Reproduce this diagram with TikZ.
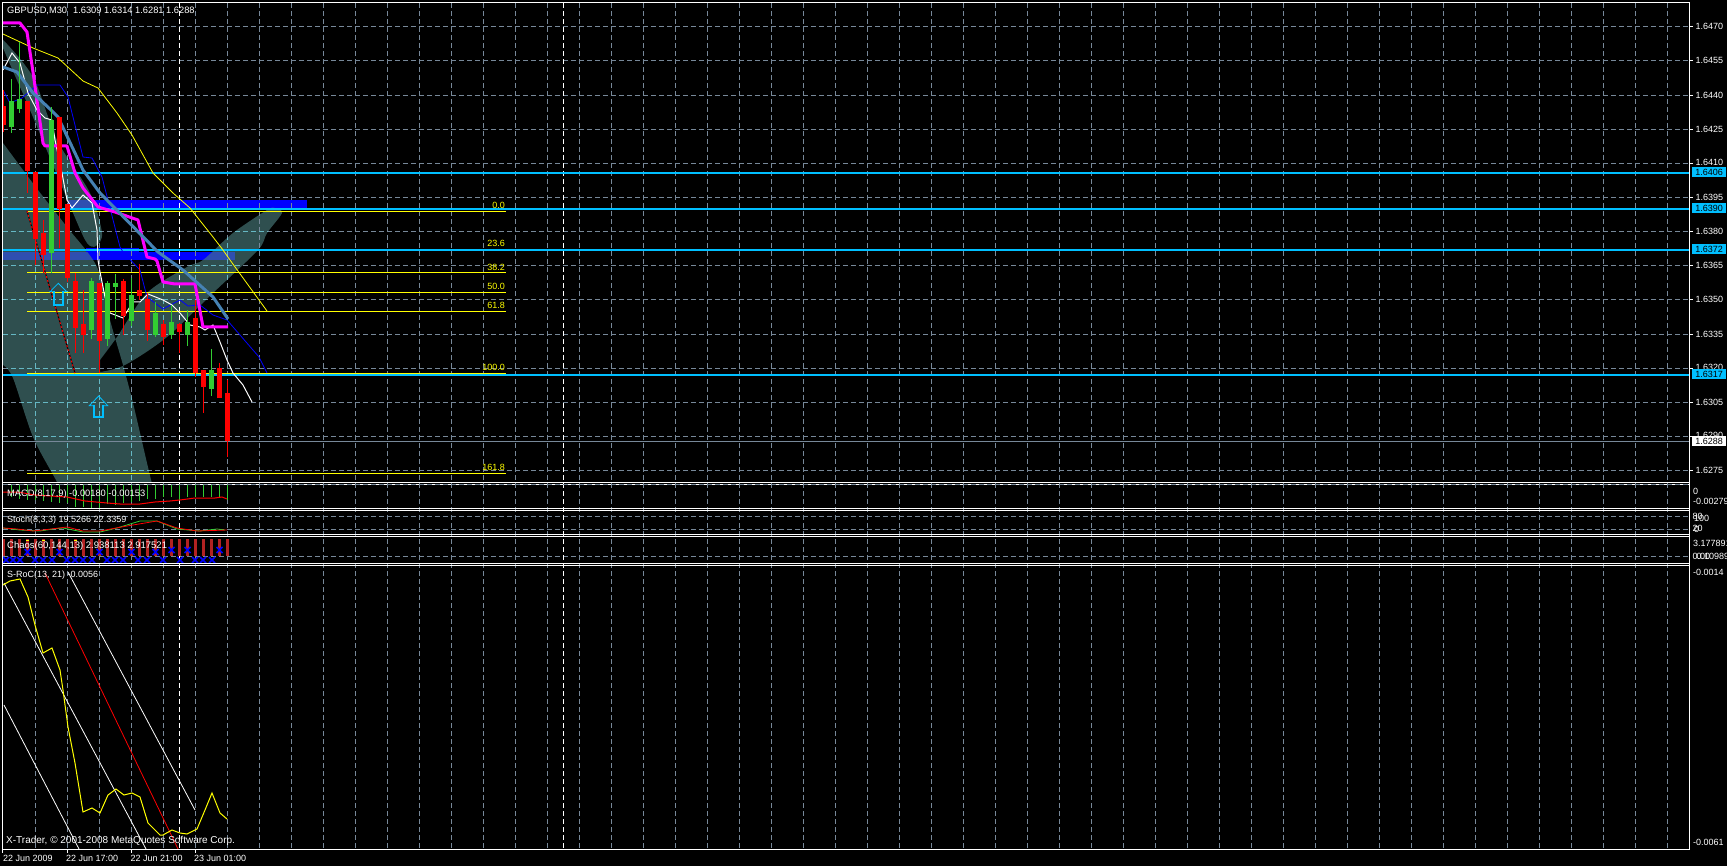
\documentclass[tikz,border=0pt]{standalone}
\usepackage{fontspec}
\setmainfont{Liberation Sans}

\definecolor{gridgray}{HTML}{778899}
\definecolor{gridlight}{HTML}{66B8C4}
\definecolor{ellipsefill}{HTML}{2F4F4F}
\definecolor{ellipseblue}{HTML}{2F4FB0}
\definecolor{levelblue}{HTML}{00BFFF}
\definecolor{upgreen}{HTML}{32CD32}
\definecolor{chaosred}{HTML}{B22222}
\definecolor{steel}{HTML}{4682B4}
\definecolor{chartyellow}{HTML}{FFFF00}
\definecolor{chartmagenta}{HTML}{FF00FF}

\tikzset{
  chartlabel/.style={anchor=west, inner sep=0pt, text=white, font=\fontsize{9}{9}\selectfont},
  titlelabel/.style={anchor=west, inner sep=0pt, text=white, font=\fontsize{9.3}{9}\selectfont},
  fiblabel/.style={anchor=east, inner sep=0pt, text=chartyellow, font=\fontsize{9}{9}\selectfont},
  pricetag/.style={minimum width=34pt, minimum height=10pt, inner sep=0pt, text=black, font=\fontsize{9}{9}\selectfont},
  griddash/.style={line width=1pt, dash pattern=on 5pt off 3pt},
  panelframe/.style={line width=1pt, white},
}

\begin{document}
\begin{tikzpicture}[x=1pt,y=-1pt]

\def\width{1727}
\def\height{866}
\def\axisx{1689.5}
\def\gridys{26.5,60.5,95.5,129.5,163.5,197.5,231.5,265.5,299.5,334.5,368.5,402.5,436.5,470.5}

% ELLIPSES
\def\shadepath{
  plot[smooth cycle] coordinates {(0,37) (33,77) (57,140) (90,193) (102,233) (96,246) (87,243) (73,213) (30,110) (6,55)}
  (-10,130) -- plot[smooth] coordinates {(3,143) (38,190) (67,227) (97,267) (110,320) (123,365) (133,403) (147,463) (156,500)}
  -- plot[smooth] coordinates {(65,500) (57,482) (33,437) (13,378) (3,365)} -- (-10,345) -- cycle
  (100,372) -- plot[smooth] coordinates {(100,372) (125,365) (167,337) (213,293) (258,250) (267,233) (282,213) (275,208) (267,210) (233,233) (203,260) (187,267) (147,293) (117,337) (100,360)} -- cycle
}

\path [use as bounding box, fill=black] (0,0) rectangle (\width,\height);

\begin{scope}
\clip (3,3) rectangle (\axisx,482);
\fill [ellipsefill, even odd rule] \shadepath;
\fill [blue] (68,200) rectangle (307,208.5);
\fill [blue] (3,252) rectangle (235,260);
\fill [blue] (86,248) rectangle (139,252);
\end{scope}

% GRID
\foreach \gx in {35.5,67.5,...,1667.5}
  \draw [griddash, gridgray] (\gx,3) -- (\gx,849);
\foreach \gy in \gridys
  \draw [griddash, gridgray] (3,\gy) -- (\axisx,\gy);
\foreach \gy in {516.5,529.5,556.5}
  \draw [griddash, gridgray] (3,\gy) -- (\axisx,\gy);

% GRID AND BLUE INSIDE ELLIPSES
\begin{scope}[even odd rule]
\clip (3,3) rectangle (\axisx,482);
\clip \shadepath;
\fill [ellipseblue] (68,200) rectangle (307,208.5);
\fill [ellipseblue] (3,252) rectangle (235,260);
\foreach \gx in {35.5,67.5,...,227.5}
  \draw [griddash, gridlight] (\gx,3) -- (\gx,482);
\foreach \gy in \gridys
  \draw [griddash, gridlight] (3,\gy) -- (300,\gy);
\end{scope}

% DAY SEPARATORS
\foreach \gx in {179.5,563.5}
  \draw [griddash, white] (\gx,3) -- (\gx,849);

% LEVELS
\foreach \ly in {173,209,250,375}
  \draw [line width=2pt, levelblue] (3,\ly) -- (\axisx,\ly);
\draw [line width=1pt, gridgray] (3,441.5) -- (\axisx,441.5);

% FIBO
\foreach \ly/\lt/\tyy in {211.5/0.0/205,272.5/38.2/267,292.5/50.0/286.5,311.5/61.8/305.5,373.5/100.0/367.5,473.5/161.8/467.5}{
  \draw [line width=1pt, chartyellow] (27,\ly) -- (506,\ly);
  \node [fiblabel] (fib\lt) at (505,\tyy) {\lt};
}
\node [fiblabel] (fib23) at (505,243) {23.6};

% TREND
\draw [line width=1pt, black] (27,211) -- (75,373);
\draw [line width=1pt, red, dash pattern=on 2pt off 2pt] (27,211) -- (75,373);

% MOVING AVERAGES
\begin{scope}
\clip (3,3) rectangle (\axisx,482);
\draw [line width=0.8pt, chartyellow] (3,34) -- (33,48) -- (58,58) -- (83,81) -- (98,88) -- (117,113) -- (132,135) -- (153,173) -- (173,193) -- (190,208) -- (213,237) -- (223,250) -- (230,260) -- (267,311);
\draw [line width=0.8pt, blue] (3,90) -- (10,103) -- (22,98) -- (37,85) -- (60,85) -- (68,97) -- (83,157) -- (92,158) -- (102,177) -- (110,208) -- (120,247) -- (123,252) -- (140,270) -- (147,297) -- (163,309) -- (180,300) -- (188,306) -- (200,305) -- (213,315) -- (227,320) -- (240,335) -- (259,357) -- (267,373);
\draw [line width=1pt, white] (3,70) -- (12,53) -- (20,63) -- (28,93) -- (37,110) -- (45,118) -- (52,120) -- (55,140) -- (62,173) -- (67,200) -- (72,208) -- (83,195) -- (92,203) -- (97,230) -- (98,260) -- (100,272) -- (105,297) -- (110,313) -- (123,318) -- (133,302) -- (140,302) -- (148,294) -- (163,300) -- (172,305) -- (180,313) -- (190,325) -- (200,327) -- (205,330) -- (213,325) -- (220,342) -- (227,360) -- (233,373) -- (243,385) -- (252,402);
\draw [line width=3pt, chartmagenta, line join=round] (3,23) -- (20,23) -- (27,32) -- (33,72) -- (43,143) -- (45,146) -- (67,146) -- (75,173) -- (83,188) -- (98,207) -- (115,212) -- (138,220) -- (147,257) -- (155,259) -- (157,261) -- (163,282) -- (175,284) -- (195,284) -- (203,327) -- (228,327);
\draw [line width=3pt, steel, line join=round] (3,67) -- (17,72) -- (33,93) -- (52,111) -- (58,117) -- (83,170) -- (100,193) -- (158,252) -- (183,270) -- (213,297) -- (228,319);
\end{scope}

% ARROWS
\draw [line width=0.8pt, levelblue] (54.3,291.7) -- (50,291.7) -- (58.3,283.3) -- (66.7,291.7) -- (62.7,291.7);
\draw [line width=2pt, levelblue] (54.3,291) -- (54.3,305) -- (62.7,305) -- (62.7,291);
\draw [line width=0.8pt, levelblue] (94.3,405.7) -- (89.3,405.7) -- (98.7,396) -- (107.7,405.7) -- (102.7,405.7);
\draw [line width=2pt, levelblue] (94.3,405) -- (94.3,417.5) -- (102.7,417.5) -- (102.7,405);

% CANDLES
\begin{scope}
\clip (3,3) rectangle (\axisx,482);
\foreach \cx/\col/\bt/\bb/\wt/\wb in {
  3.5/red/106/125/90/132, 11.5/upgreen/101/127/79/133, 19.5/upgreen/99/109/42/113,
  27.5/red/101/171/101/193, 35.5/red/172/239/172/265, 43.5/red/233/255/220/273,
  51.5/upgreen/120/253/107/273, 59.5/red/117/209/117/248, 67.5/red/204/278/204/282,
  75.5/red/281/328/273/353, 83.5/red/324/335/290/353, 91.5/upgreen/281/330/278/339,
  99.5/red/283/341/283/373, 107.5/upgreen/283/339/281/346, 115.5/upgreen/283/287/274/319,
  123.5/red/281/316/279/335, 131.5/upgreen/295/321/278/326, 139.5/red/290/296/264/300,
  147.5/red/299/330/293/341, 155.5/upgreen/313/335/302/337, 163.5/red/324/337/320/345,
  171.5/upgreen/322/335/305/339, 179.5/red/324/332/323/353, 187.5/upgreen/322/335/310/346,
  195.5/red/318/373/300/377, 203.5/red/370/387/370/413, 211.5/upgreen/370/389/349/396,
  219.5/red/368/398/363/398, 227.5/red/393/441/380/457}{
  \draw [line width=1pt, \col] (\cx,\wt) -- (\cx,\wb);
  \fill [\col] (\cx-2.5,\bt) rectangle (\cx+2.5,\bb);
}
\end{scope}

% MACD
\foreach \mx/\my in {11.5/497,19.5/499,27.5/500,35.5/500,43.5/501,51.5/502,59.5/503,67.5/503,75.5/507,83.5/507,91.5/508,99.5/508,107.5/504,115.5/505,123.5/503,131.5/502,139.5/501,147.5/499,155.5/499,163.5/497,171.5/497,179.5/500,187.5/497,195.5/497,203.5/497,211.5/497,219.5/497,227.5/500}
  \draw [line width=1pt, upgreen] (\mx,485) -- (\mx,\my);
\draw [line width=1pt, red] (3,492) -- (18,492) -- (35,495) -- (67,497) -- (85,501) -- (107,503) -- (120,504) -- (140,504) -- (155,502) -- (170,501) -- (180,500) -- (195,498) -- (215,498) -- (222,497) -- (227,499);

% STOCH
\draw [line width=0.8pt, upgreen] (3,528) -- (20,530) -- (40,531) -- (53,529) -- (63,528) -- (83,532) -- (100,532) -- (117,528) -- (140,521) -- (157,521) -- (177,529) -- (200,531) -- (217,529) -- (225,530);
\draw [line width=0.8pt, red] (3,528) -- (17,529) -- (33,531) -- (43,530) -- (67,527) -- (83,531) -- (100,531) -- (127,526) -- (157,521) -- (177,528) -- (197,531) -- (227,530);

% CHAOS
\foreach \hx in {3.5,11.5,...,227.5}
  \draw [line width=3pt, chaosred] (\hx,539) -- (\hx,556);
\foreach \hx in {27.5,43.5,75.5}
  \draw [line width=1pt, chartyellow] (\hx-1.5,540.5) -- (\hx+1.5,540.5);
\foreach \hx/\hy in {6/560,13/560,20/560,35/560,43/560,52/560,67/560,75/560,83/560,92/560,107/560,115/560,123/560,138/560,147/560,163/560,180/560,195/560,203/560,212/560,27.5/552,59.5/552,99.5/552,131.5/552,155.5/552,171.5/550,187.5/550,219.5/550}{
  \draw [line width=1.6pt, blue] (\hx-3,\hy-3) -- (\hx+3,\hy+3);
  \draw [line width=1.6pt, blue] (\hx-3,\hy+3) -- (\hx+3,\hy-3);
}

% S-ROC
\begin{scope}
\clip (3,565) rectangle (\axisx,849);
\draw [line width=0.8pt, white] (4,583) -- (146,849);
\draw [line width=0.8pt, white] (4,705) -- (79,849);
\draw [line width=0.8pt, white] (68,572) -- (195,810);
\draw [line width=0.8pt, red] (45,573) -- (178,849);
\draw [line width=1pt, chartyellow] (3,585) -- (10,581) -- (20,579) -- (28,597) -- (35,625) -- (43,653) -- (52,648) -- (60,670) -- (63,690) -- (68,727) -- (75,763) -- (83,812) -- (92,808) -- (100,813) -- (108,795) -- (116,789) -- (124,795) -- (132,793) -- (140,797) -- (148,823) -- (160,835) -- (163,835) -- (172,830) -- (180,833) -- (187,834) -- (197,829) -- (205,810) -- (212,793) -- (220,813) -- (227,819);
\end{scope}

% FRAMES
\draw [panelframe] (2.5,2.5) -- (\axisx,2.5) -- (\axisx,849.5) -- (2.5,849.5) -- cycle;
\foreach \fy in {482.5,484.5,508.5,510.5,534.5,536.5,563.5,565.5}
  \draw [panelframe] (2.5,\fy) -- (\axisx,\fy);
\draw [griddash, gridgray] (3,484.5) -- (\axisx,484.5);

% TICKS
\foreach \gy in \gridys
  \draw [line width=1pt, white] (\axisx,\gy) -- +(3,0);
\foreach \tx in {2.5,67.5,131.5,195.5}
  \draw [line width=1pt, white] (\tx,849.5) -- +(0,3);

% PRICE AXIS
\foreach \ay/\at in {26/1.6470,60/1.6455,95/1.6440,129/1.6425,162.5/1.6410,197/1.6395,231/1.6380,265/1.6365,299/1.6350,334/1.6335,367.5/1.6320,402/1.6305,435/1.6290,470/1.6275}
  \node [chartlabel] (axis\at) at (1695.5,\ay) {\at};
\foreach \ay/\at in {172.5/1.6406,208.5/1.6390,249.5/1.6372,374.5/1.6317}
  \node [pricetag, fill=levelblue] (tag\at) at (1709,\ay) {\at};
\node [pricetag, fill=white] (tagclose) at (1709,441) {1.6288};

% PANEL AXES
\node [chartlabel] (macdzero) at (1693,491.5) {0};
\node [chartlabel] (macdlow) at (1693,501.5) {-0.00279};
\node [chartlabel] (stochtop) at (1692.5,516) {80};
\node [chartlabel] (stochmax) at (1694,518) {100};
\node [chartlabel] (stochlow) at (1692.5,528) {20};
\node [chartlabel] (stochmin) at (1694,529) {0};
\node [chartlabel] (chaoshigh) at (1693,543) {3.177891};
\node [chartlabel] (chaoszero) at (1692.5,556) {0.00};
\node [chartlabel] (chaosmid) at (1696.5,556) {0.109894};
\node [chartlabel] (roctop) at (1693,572.5) {-0.0014};
\node [chartlabel] (roclow) at (1693,842.5) {-0.0061};

% TITLES
\node [titlelabel] (title) at (7,10.5) {GBPUSD,M30\hspace{6pt}1.6309 1.6314 1.6281 1.6288};
\node [titlelabel] (macdtitle) at (7,494.5) {MACD(8,17,9) -0.00180 -0.00153};
\node [chartlabel] (stochtitle) at (7,520.5) {Stoch(8,3,3) 19.5266 22.3359};
\node [titlelabel, font=\fontsize{9.5}{9}\selectfont] (chaostitle) at (7,546.5) {Chaos(60,144,13) 2.938113 2.917521};
\node [chartlabel] (roctitle) at (7,575) {S-RoC(13, 21) -0.0056};
\node [titlelabel, font=\fontsize{10}{9}\selectfont] (copyright) at (6,840.5) {X-Trader, © 2001-2008 MetaQuotes Software Corp.};

% DATES
\node [chartlabel] (date1) at (3,858) {22 Jun 2009};
\node [chartlabel] (date2) at (66,858) {22 Jun 17:00};
\node [chartlabel] (date3) at (130.5,858) {22 Jun 21:00};
\node [chartlabel] (date4) at (194,858) {23 Jun 01:00};

\end{tikzpicture}
\end{document}
